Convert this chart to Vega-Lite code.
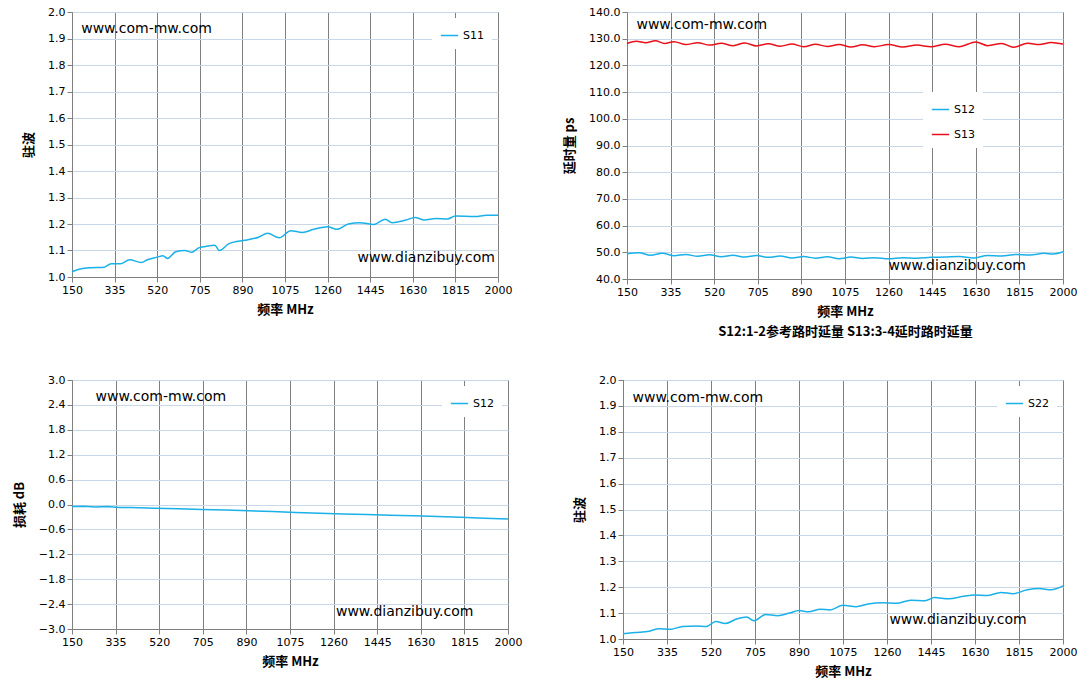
{
"$schema":"https://vega.github.io/schema/vega-lite/v6.json",
"background":"white",
"padding":{"left":12,"top":5,"right":5,"bottom":5},
"config":{
 "view":{"stroke":"#4f81bd","strokeWidth":1},
 "font":"DejaVu Sans",
 "axis":{"labelFont":"DejaVu Sans","labelFontSize":11,"labelColor":"#000","titleFont":"Noto Sans CJK SC","titleFontSize":13,"titleFontWeight":"bold","titleColor":"#000","tickColor":"#808080","domainColor":"#808080","labelOverlap":false,"titleLineHeight":20},
 "axisX":{"gridColor":"#808080","gridWidth":1,"labelFlush":false,"titlePadding":8,"labelOverlap":false},
 "axisY":{"gridColor":"#c8d8e8","titleAngle":-90,"titlePadding":12,"labelOverlap":false},
 "legend":{"orient":"top-right","fillColor":"white","labelFont":"DejaVu Sans","labelFontSize":11,"symbolType":"stroke","symbolSize":300,"title":null,"padding":8,"offset":6,"symbolStrokeWidth":1.5,"rowPadding":10}
},
"datasets":{
 "s11":[{"x":150,"y":1.02},{"x":185,"y":1.03},{"x":230,"y":1.035},{"x":290,"y":1.037},{"x":320,"y":1.05},{"x":360,"y":1.05},{"x":400,"y":1.065},{"x":450,"y":1.055},{"x":480,"y":1.066},{"x":520,"y":1.075},{"x":545,"y":1.08},{"x":565,"y":1.07},{"x":600,"y":1.095},{"x":640,"y":1.1},{"x":670,"y":1.093},{"x":700,"y":1.11},{"x":730,"y":1.115},{"x":770,"y":1.12},{"x":790,"y":1.1},{"x":830,"y":1.125},{"x":870,"y":1.135},{"x":910,"y":1.14},{"x":960,"y":1.15},{"x":1000,"y":1.165},{"x":1050,"y":1.148},{"x":1100,"y":1.175},{"x":1150,"y":1.168},{"x":1200,"y":1.18},{"x":1260,"y":1.19},{"x":1300,"y":1.18},{"x":1350,"y":1.2},{"x":1400,"y":1.205},{"x":1460,"y":1.198},{"x":1510,"y":1.218},{"x":1540,"y":1.205},{"x":1600,"y":1.215},{"x":1640,"y":1.225},{"x":1680,"y":1.215},{"x":1730,"y":1.221},{"x":1780,"y":1.219},{"x":1815,"y":1.23},{"x":1900,"y":1.228},{"x":1950,"y":1.233},{"x":2000,"y":1.233}],
 "delay":[{"x":150,"y":49.5,"s":"S12"},{"x":200,"y":49.8,"s":"S12"},{"x":250,"y":48.9,"s":"S12"},{"x":300,"y":49.6,"s":"S12"},{"x":350,"y":48.7,"s":"S12"},{"x":400,"y":49.2,"s":"S12"},{"x":450,"y":48.5,"s":"S12"},{"x":500,"y":49.1,"s":"S12"},{"x":550,"y":48.3,"s":"S12"},{"x":600,"y":48.9,"s":"S12"},{"x":650,"y":48.2,"s":"S12"},{"x":700,"y":48.8,"s":"S12"},{"x":750,"y":48.1,"s":"S12"},{"x":800,"y":48.6,"s":"S12"},{"x":850,"y":47.9,"s":"S12"},{"x":900,"y":48.4,"s":"S12"},{"x":950,"y":47.8,"s":"S12"},{"x":1000,"y":48.3,"s":"S12"},{"x":1050,"y":47.6,"s":"S12"},{"x":1100,"y":48.2,"s":"S12"},{"x":1150,"y":47.7,"s":"S12"},{"x":1200,"y":48.0,"s":"S12"},{"x":1260,"y":47.6,"s":"S12"},{"x":1320,"y":48.0,"s":"S12"},{"x":1380,"y":47.8,"s":"S12"},{"x":1440,"y":48.1,"s":"S12"},{"x":1500,"y":48.2,"s":"S12"},{"x":1560,"y":48.4,"s":"S12"},{"x":1620,"y":47.9,"s":"S12"},{"x":1680,"y":48.8,"s":"S12"},{"x":1740,"y":48.6,"s":"S12"},{"x":1800,"y":49.2,"s":"S12"},{"x":1860,"y":49.0,"s":"S12"},{"x":1920,"y":49.6,"s":"S12"},{"x":1960,"y":49.4,"s":"S12"},{"x":2000,"y":50.2,"s":"S12"},
 {"x":150,"y":128.2,"s":"S13"},{"x":190,"y":129.0,"s":"S13"},{"x":230,"y":128.5,"s":"S13"},{"x":270,"y":129.2,"s":"S13"},{"x":310,"y":128.2,"s":"S13"},{"x":350,"y":128.9,"s":"S13"},{"x":400,"y":127.8,"s":"S13"},{"x":450,"y":128.5,"s":"S13"},{"x":500,"y":127.6,"s":"S13"},{"x":550,"y":128.3,"s":"S13"},{"x":600,"y":127.4,"s":"S13"},{"x":650,"y":128.4,"s":"S13"},{"x":700,"y":127.3,"s":"S13"},{"x":750,"y":128.1,"s":"S13"},{"x":800,"y":127.2,"s":"S13"},{"x":850,"y":128.0,"s":"S13"},{"x":900,"y":127.0,"s":"S13"},{"x":950,"y":127.9,"s":"S13"},{"x":1000,"y":127.1,"s":"S13"},{"x":1050,"y":127.8,"s":"S13"},{"x":1100,"y":126.9,"s":"S13"},{"x":1150,"y":127.7,"s":"S13"},{"x":1200,"y":127.0,"s":"S13"},{"x":1260,"y":127.8,"s":"S13"},{"x":1320,"y":126.9,"s":"S13"},{"x":1380,"y":127.6,"s":"S13"},{"x":1440,"y":127.0,"s":"S13"},{"x":1500,"y":127.9,"s":"S13"},{"x":1560,"y":127.0,"s":"S13"},{"x":1630,"y":128.8,"s":"S13"},{"x":1680,"y":127.4,"s":"S13"},{"x":1740,"y":128.2,"s":"S13"},{"x":1790,"y":126.8,"s":"S13"},{"x":1850,"y":128.3,"s":"S13"},{"x":1900,"y":127.8,"s":"S13"},{"x":1950,"y":128.6,"s":"S13"},{"x":2000,"y":128.0,"s":"S13"}],
 "loss":[{"x":150,"y":-0.05},{"x":200,"y":-0.04},{"x":250,"y":-0.06},{"x":300,"y":-0.05},{"x":350,"y":-0.07},{"x":400,"y":-0.07},{"x":500,"y":-0.09},{"x":600,"y":-0.1},{"x":700,"y":-0.12},{"x":800,"y":-0.13},{"x":900,"y":-0.15},{"x":1000,"y":-0.17},{"x":1100,"y":-0.19},{"x":1200,"y":-0.21},{"x":1300,"y":-0.23},{"x":1400,"y":-0.24},{"x":1500,"y":-0.26},{"x":1600,"y":-0.27},{"x":1700,"y":-0.29},{"x":1800,"y":-0.31},{"x":1900,"y":-0.33},{"x":2000,"y":-0.35}],
 "s22":[{"x":150,"y":1.02},{"x":200,"y":1.025},{"x":260,"y":1.03},{"x":300,"y":1.04},{"x":350,"y":1.038},{"x":400,"y":1.048},{"x":460,"y":1.05},{"x":500,"y":1.048},{"x":540,"y":1.068},{"x":580,"y":1.06},{"x":630,"y":1.078},{"x":670,"y":1.085},{"x":700,"y":1.07},{"x":750,"y":1.095},{"x":800,"y":1.09},{"x":850,"y":1.1},{"x":890,"y":1.11},{"x":930,"y":1.105},{"x":980,"y":1.115},{"x":1020,"y":1.112},{"x":1075,"y":1.13},{"x":1130,"y":1.125},{"x":1180,"y":1.135},{"x":1240,"y":1.14},{"x":1300,"y":1.138},{"x":1360,"y":1.15},{"x":1420,"y":1.148},{"x":1460,"y":1.16},{"x":1520,"y":1.155},{"x":1580,"y":1.165},{"x":1630,"y":1.17},{"x":1680,"y":1.168},{"x":1740,"y":1.18},{"x":1790,"y":1.175},{"x":1850,"y":1.19},{"x":1900,"y":1.195},{"x":1950,"y":1.19},{"x":2000,"y":1.205}]
},
"vconcat":[
 {"hconcat":[
  {"width":426,"height":265,
   "encoding":{"x":{"field":"x","type":"quantitative","scale":{"domain":[150,2000],"nice":false,"zero":false},"axis":{"values":[150,335,520,705,890,1075,1260,1445,1630,1815,2000],"format":"d","labelOverlap":false,"title":"频率 MHz"}},
     "y":{"field":"y","type":"quantitative","scale":{"domain":[1,2],"nice":false,"zero":false},"axis":{"values":[1,1.1,1.2,1.3,1.4,1.5,1.6,1.7,1.8,1.9,2],"format":".1f","labelOverlap":false,"title":"驻波"}}},
   "layer":[
   {"data":{"name":"s11"},"mark":{"type":"line","strokeWidth":1.5,"interpolate":"monotone"},
    "encoding":{"color":{"datum":"S11","type":"nominal","scale":{"domain":["S11"],"range":["#1ab0e8"]}}}},
   {"data":{"values":[{"x":190,"y":1.935,"t":"www.com-mw.com"},{"x":1390,"y":1.07,"t":"www.dianzibuy.com"}]},"mark":{"type":"text","align":"left","fontSize":14,"font":"DejaVu Sans"},
    "encoding":{"text":{"field":"t"}}}
  ]},
  {"width":436,"height":267,
   "encoding":{"x":{"field":"x","type":"quantitative","scale":{"domain":[150,2000],"nice":false,"zero":false},"axis":{"values":[150,335,520,705,890,1075,1260,1445,1630,1815,2000],"format":"d","labelOverlap":false,"title":["频率 MHz","","S12:1-2参考路时延量    S13:3-4延时路时延量"]}},
     "y":{"field":"y","type":"quantitative","scale":{"domain":[40,140],"nice":false,"zero":false},"axis":{"values":[40,50,60,70,80,90,100,110,120,130,140],"format":".1f","labelOverlap":false,"title":"延时量 ps"}}},
   "layer":[
   {"data":{"name":"delay"},"mark":{"type":"line","strokeWidth":1.5,"interpolate":"monotone"},
    "encoding":{"color":{"field":"s","type":"nominal","scale":{"domain":["S12","S13"],"range":["#1ab0e8","#e8101a"]},"legend":{"offset":80}}}},
   {"data":{"values":[{"x":190,"y":135,"t":"www.com-mw.com"},{"x":1260,"y":45,"t":"www.dianzibuy.com"}]},"mark":{"type":"text","align":"left","fontSize":14,"font":"DejaVu Sans"},
    "encoding":{"text":{"field":"t"}}}
  ]}
 ],"spacing":50,"resolve":{"scale":{"color":"independent"},"legend":{"color":"independent"}}},
 {"hconcat":[
  {"width":436,"height":249,
   "encoding":{"x":{"field":"x","type":"quantitative","scale":{"domain":[150,2000],"nice":false,"zero":false},"axis":{"values":[150,335,520,705,890,1075,1260,1445,1630,1815,2000],"format":"d","labelOverlap":false,"title":"频率 MHz"}},
     "y":{"field":"y","type":"quantitative","scale":{"domain":[-3,3],"nice":false,"zero":false},"axis":{"values":[-3,-2.4,-1.8,-1.2,-0.6,0,0.6,1.2,1.8,2.4,3],"format":".1f","labelOverlap":false,"title":"损耗 dB"}}},
   "layer":[
   {"data":{"name":"loss"},"mark":{"type":"line","strokeWidth":1.5},
    "encoding":{"color":{"datum":"S12","type":"nominal","scale":{"domain":["S12"],"range":["#1ab0e8"]}}}},
   {"data":{"values":[{"x":250,"y":2.58,"t":"www.com-mw.com"},{"x":1270,"y":-2.58,"t":"www.dianzibuy.com"}]},"mark":{"type":"text","align":"left","fontSize":14,"font":"DejaVu Sans"},
    "encoding":{"text":{"field":"t"}}}
  ]},
  {"width":440,"height":259,
   "encoding":{"x":{"field":"x","type":"quantitative","scale":{"domain":[150,2000],"nice":false,"zero":false},"axis":{"values":[150,335,520,705,890,1075,1260,1445,1630,1815,2000],"format":"d","labelOverlap":false,"title":"频率 MHz"}},
     "y":{"field":"y","type":"quantitative","scale":{"domain":[1,2],"nice":false,"zero":false},"axis":{"values":[1,1.1,1.2,1.3,1.4,1.5,1.6,1.7,1.8,1.9,2],"format":".1f","labelOverlap":false,"title":"驻波"}}},
   "layer":[
   {"data":{"name":"s22"},"mark":{"type":"line","strokeWidth":1.5,"interpolate":"monotone"},
    "encoding":{"color":{"datum":"S22","type":"nominal","scale":{"domain":["S22"],"range":["#1ab0e8"]}}}},
   {"data":{"values":[{"x":190,"y":1.93,"t":"www.com-mw.com"},{"x":1270,"y":1.075,"t":"www.dianzibuy.com"}]},"mark":{"type":"text","align":"left","fontSize":14,"font":"DejaVu Sans"},
    "encoding":{"text":{"field":"t"}}}
  ]}
 ],"spacing":50,"resolve":{"scale":{"color":"independent"},"legend":{"color":"independent"}}}
],
"spacing":14,
"resolve":{"scale":{"color":"independent"},"legend":{"color":"independent"}}
}
